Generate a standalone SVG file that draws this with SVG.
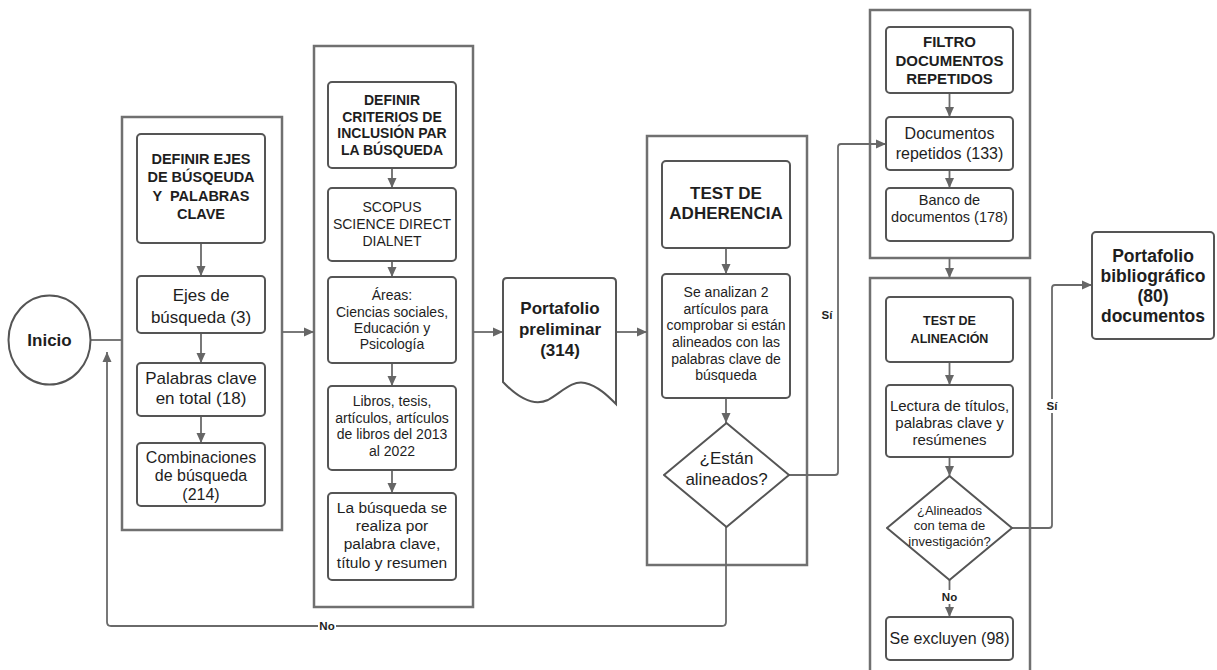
<svg xmlns="http://www.w3.org/2000/svg" width="1217" height="670" viewBox="0 0 1217 670">
<style>
text{font-family:"Liberation Sans",Arial,sans-serif;fill:#1e1e1e;text-anchor:middle;white-space:pre}
.b{font-weight:bold}
.cont{fill:none;stroke:#707070;stroke-width:2.5}
.box{fill:#fff;stroke:#555;stroke-width:2}
.ln{fill:none;stroke:#6a6a6a;stroke-width:1.8;stroke-linejoin:round}
.lbl{font-size:11.5px;font-weight:bold}
</style>
<defs>
<marker id="ah" markerUnits="userSpaceOnUse" markerWidth="10" markerHeight="10" viewBox="0 0 10 10" refX="10" refY="5" orient="auto">
<path d="M0,0.5 L10,5 L0,9.5 z" fill="#666"/>
</marker>
</defs>
<rect width="1217" height="670" fill="#fff"/>

<g id="containers">
<rect class="cont" x="122" y="117" width="160" height="413"/>
<rect class="cont" x="314" y="46" width="159" height="561"/>
<rect class="cont" x="647" y="136" width="160" height="429"/>
<rect class="cont" x="870" y="10" width="160" height="248"/>
<rect class="cont" x="870" y="278" width="160" height="420"/>
</g>

<g id="connectors">
<line class="ln" x1="90" y1="340" x2="122" y2="340"/>
<line class="ln" x1="282" y1="332" x2="314" y2="332" marker-end="url(#ah)"/>
<line class="ln" x1="473" y1="332" x2="503" y2="332" marker-end="url(#ah)"/>
<line class="ln" x1="616" y1="332" x2="647" y2="332" marker-end="url(#ah)"/>
<line class="ln" x1="201" y1="243" x2="201" y2="276" marker-end="url(#ah)"/>
<line class="ln" x1="201" y1="333" x2="201" y2="363" marker-end="url(#ah)"/>
<line class="ln" x1="201" y1="416" x2="201" y2="443" marker-end="url(#ah)"/>
<line class="ln" x1="392" y1="168" x2="392" y2="188" marker-end="url(#ah)"/>
<line class="ln" x1="392" y1="261" x2="392" y2="277" marker-end="url(#ah)"/>
<line class="ln" x1="392" y1="363" x2="392" y2="386" marker-end="url(#ah)"/>
<line class="ln" x1="392" y1="470" x2="392" y2="493" marker-end="url(#ah)"/>
<line class="ln" x1="726" y1="248" x2="726" y2="274" marker-end="url(#ah)"/>
<line class="ln" x1="726" y1="398" x2="726" y2="423" marker-end="url(#ah)"/>
<path class="ln" d="M789,475 H835 Q838,475 838,472 V147 Q838,144 841,144 H886" marker-end="url(#ah)"/>
<path class="ln" d="M726,527 V622 Q726,626 722,626 H111 Q107,626 107,622 V352" marker-end="url(#ah)"/>
<line class="ln" x1="949.5" y1="93" x2="949.5" y2="117" marker-end="url(#ah)"/>
<line class="ln" x1="949.5" y1="170" x2="949.5" y2="188" marker-end="url(#ah)"/>
<line class="ln" x1="949.5" y1="258" x2="949.5" y2="278" marker-end="url(#ah)"/>
<line class="ln" x1="949.5" y1="362" x2="949.5" y2="385" marker-end="url(#ah)"/>
<line class="ln" x1="949.5" y1="457" x2="949.5" y2="476" marker-end="url(#ah)"/>
<line class="ln" x1="949.5" y1="580" x2="949.5" y2="617" marker-end="url(#ah)"/>
<path class="ln" d="M1012,528 H1049 Q1052,528 1052,525 V288 Q1052,285 1055,285 H1092" marker-end="url(#ah)"/>
<text class="lbl" x="827" y="319">Sí</text>
<rect x="1045" y="399" width="14" height="14" fill="#fff"/>
<text class="lbl" x="1052" y="410">Sí</text>
<rect x="318" y="619" width="18" height="14" fill="#fff"/>
<text class="lbl" x="327" y="630">No</text>
<rect x="940" y="590" width="19" height="14" fill="#fff"/>
<text class="lbl" x="949.5" y="601">No</text>
</g>

<g id="inicio">
<ellipse cx="49.5" cy="340" rx="41" ry="44.5" fill="#fff" stroke="#555" stroke-width="2"/>
<text class="b" x="49.5" y="346" style="font-size:17px">Inicio</text>
</g>

<g id="n-definir-ejes">
<rect class="box" x="137" y="134" width="128" height="109" rx="4"/>
<text class="b" style="font-size:14.5px" x="201"><tspan x="201" y="164">DEFINIR EJES</tspan><tspan x="201" y="182">DE BÚSQEUDA</tspan><tspan x="201" y="201">Y  PALABRAS</tspan><tspan x="201" y="219">CLAVE</tspan></text>
</g>
<g id="n-ejes">
<rect class="box" x="137" y="276" width="128" height="57" rx="4"/>
<text style="font-size:17px"><tspan x="201" y="301">Ejes de</tspan><tspan x="201" y="323">búsqueda (3)</tspan></text>
</g>
<g id="n-palabras">
<rect class="box" x="137" y="363" width="128" height="53" rx="4"/>
<text style="font-size:17px"><tspan x="201" y="384">Palabras clave</tspan><tspan x="201" y="404">en total (18)</tspan></text>
</g>
<g id="n-combinaciones">
<rect class="box" x="137" y="443" width="128" height="63" rx="4"/>
<text style="font-size:16px"><tspan x="201" y="463">Combinaciones</tspan><tspan x="201" y="481">de búsqueda</tspan><tspan x="201" y="500">(214)</tspan></text>
</g>

<g id="n-criterios">
<rect class="box" x="328" y="82" width="128" height="86" rx="4"/>
<text class="b" style="font-size:14px"><tspan x="392" y="105">DEFINIR</tspan><tspan x="392" y="122">CRITERIOS DE</tspan><tspan x="392" y="138">INCLUSIÓN PAR</tspan><tspan x="392" y="155">LA BÚSQUEDA</tspan></text>
</g>
<g id="n-bases">
<rect class="box" x="328" y="188" width="128" height="73" rx="4"/>
<text style="font-size:14px"><tspan x="392" y="212">SCOPUS</tspan><tspan x="392" y="229">SCIENCE DIRECT</tspan><tspan x="392" y="246">DIALNET</tspan></text>
</g>
<g id="n-areas">
<rect class="box" x="328" y="277" width="128" height="86" rx="4"/>
<text style="font-size:14px"><tspan x="392" y="300">Áreas:</tspan><tspan x="392" y="317">Ciencias sociales,</tspan><tspan x="392" y="333">Educación y</tspan><tspan x="392" y="349">Psicología</tspan></text>
</g>
<g id="n-libros">
<rect class="box" x="328" y="386" width="128" height="84" rx="4"/>
<text style="font-size:14px"><tspan x="392" y="406">Libros, tesis,</tspan><tspan x="392" y="423">artículos, artículos</tspan><tspan x="392" y="439">de libros del 2013</tspan><tspan x="392" y="456">al 2022</tspan></text>
</g>
<g id="n-busqueda">
<rect class="box" x="328" y="493" width="128" height="87" rx="4"/>
<text style="font-size:15.5px"><tspan x="392" y="512.5">La búsqueda se</tspan><tspan x="392" y="530.5">realiza por</tspan><tspan x="392" y="548.5">palabra clave,</tspan><tspan x="392" y="567.5">título y resumen</tspan></text>
</g>

<g id="n-portafolio-preliminar">
<path d="M503,282 Q503,278 507,278 H612 Q616,278 616,282 V404 C608,396 598,386 585,383 C572,380 562,392 548,400 C535,406 520,400 503,382 Z" fill="#fff" stroke="#555" stroke-width="2"/>
<text class="b" style="font-size:17px"><tspan x="560" y="314">Portafolio</tspan><tspan x="560" y="335">preliminar</tspan><tspan x="560" y="356">(314)</tspan></text>
</g>

<g id="n-test-adherencia">
<rect class="box" x="662" y="161" width="128" height="87" rx="4"/>
<text class="b" style="font-size:17px"><tspan x="726" y="199">TEST DE</tspan><tspan x="726" y="219">ADHERENCIA</tspan></text>
</g>
<g id="n-analizan">
<rect class="box" x="662" y="274" width="128" height="124" rx="4"/>
<text style="font-size:14px"><tspan x="726" y="297">Se analizan 2</tspan><tspan x="726" y="314">artículos para</tspan><tspan x="726" y="330">comprobar si están</tspan><tspan x="726" y="347">alineados con las</tspan><tspan x="726" y="364">palabras clave de</tspan><tspan x="726" y="380">búsqueda</tspan></text>
</g>
<g id="n-estan-alineados">
<path d="M726.5,423 L789,475 L726.5,527 L664,475 Z" fill="#fff" stroke="#555" stroke-width="2" stroke-linejoin="round"/>
<text style="font-size:17px"><tspan x="726.5" y="464">¿Están</tspan><tspan x="726.5" y="485">alineados?</tspan></text>
</g>

<g id="n-filtro">
<rect class="box" x="886" y="27" width="127" height="66" rx="4"/>
<text class="b" style="font-size:15px"><tspan x="949.5" y="47">FILTRO</tspan><tspan x="949.5" y="66">DOCUMENTOS</tspan><tspan x="949.5" y="84">REPETIDOS</tspan></text>
</g>
<g id="n-repetidos">
<rect class="box" x="886" y="117" width="127" height="53" rx="4"/>
<text style="font-size:16px"><tspan x="949.5" y="139">Documentos</tspan><tspan x="949.5" y="159">repetidos (133)</tspan></text>
</g>
<g id="n-banco">
<rect class="box" x="886" y="188" width="127" height="53" rx="4"/>
<text style="font-size:14.5px"><tspan x="949.5" y="205">Banco de</tspan><tspan x="949.5" y="222">documentos (178)</tspan></text>
</g>
<g id="n-test-alineacion">
<rect class="box" x="886" y="297" width="127" height="65" rx="4"/>
<text class="b" style="font-size:12.5px"><tspan x="949.5" y="324.5">TEST DE</tspan><tspan x="949.5" y="342.5">ALINEACIÓN</tspan></text>
</g>
<g id="n-lectura">
<rect class="box" x="886" y="385" width="127" height="72" rx="4"/>
<text style="font-size:15px"><tspan x="949.5" y="411">Lectura de títulos,</tspan><tspan x="949.5" y="428">palabras clave y</tspan><tspan x="949.5" y="445">resúmenes</tspan></text>
</g>
<g id="n-alineados-tema">
<path d="M949.5,476 L1012,528 L949.5,580 L887,528 Z" fill="#fff" stroke="#555" stroke-width="2" stroke-linejoin="round"/>
<text style="font-size:13px"><tspan x="949.5" y="514.5">¿Alineados</tspan><tspan x="949.5" y="529.5">con tema de</tspan><tspan x="949.5" y="545.5">investigación?</tspan></text>
</g>
<g id="n-excluyen">
<rect class="box" x="886" y="617" width="127" height="43" rx="4"/>
<text style="font-size:16px" x="949.5" y="644">Se excluyen (98)</text>
</g>

<g id="n-portafolio-bibliografico">
<rect class="box" x="1092" y="232" width="122" height="107" rx="4"/>
<text class="b" style="font-size:17.5px"><tspan x="1153" y="262">Portafolio</tspan><tspan x="1153" y="282">bibliográfico</tspan><tspan x="1153" y="302">(80)</tspan><tspan x="1153" y="322">documentos</tspan></text>
</g>
</svg>
